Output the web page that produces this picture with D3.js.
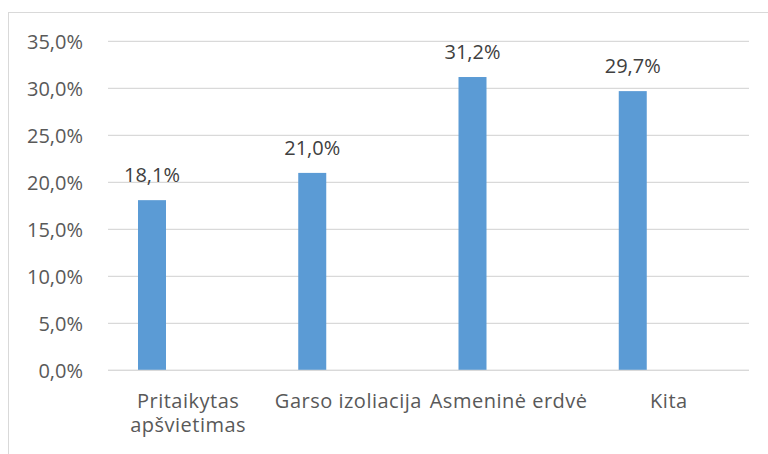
<!DOCTYPE html>
<html lang="lt">
<head>
  <meta charset="utf-8">
  <title>Bar chart</title>
  <script src="https://cdn.jsdelivr.net/npm/d3@7"></script>
  <style>
    body { margin: 0; background: #fff; }
    text { font-family: "Open Sans", "Noto Sans", sans-serif; }
  </style>
</head>
<body>
  <svg class="chart"></svg>
<script>
  // data
  var categories = [["Pritaikytas", "apšvietimas"], ["Garso izoliacija"], ["Asmeninė erdvė"], ["Kita"]];
  var values = [18.1, 21.0, 31.2, 29.7];
  var yTicks = [0, 5, 10, 15, 20, 25, 30, 35];

  var W = 768, H = 454,
      plotLeft = 108, plotRight = 749, plotTop = 41.3, plotBottom = 370.3;

  var fmt = d => d.toFixed(1).replace(".", ",") + "%";

  var svg = d3.select(".chart").attr("width", W).attr("height", H);

  // chart border (runs past the window on right and bottom)
  svg.append("rect")
    .attr("x", 8.5).attr("y", 12.5)
    .attr("width", 800).attr("height", 500)
    .attr("fill", "#fff").attr("stroke", "#d9d9d9");

  var x = d3.scaleBand().domain(d3.range(categories.length)).range([plotLeft, plotRight]);
  var y = d3.scaleLinear().domain([0, 35]).range([plotBottom, plotTop]);

  // gridlines
  svg.append("g").selectAll("line")
    .data(yTicks).enter().append("line")
    .attr("x1", plotLeft).attr("x2", plotRight)
    .attr("y1", d => y(d)).attr("y2", d => y(d))
    .attr("stroke", "#d9d9d9").attr("stroke-width", 1.3);

  // y labels
  svg.append("g").selectAll("text")
    .data(yTicks).enter().append("text")
    .attr("x", 83).attr("y", d => y(d))
    .attr("dy", "0.36em")
    .attr("text-anchor", "end")
    .style("font-size", "20px").style("fill", "#595959")
    .text(fmt);

  var barW = 28, barOff = 30;

  // bars
  svg.append("g").selectAll("rect")
    .data(values).enter().append("rect")
    .attr("x", (d, i) => x(i) + barOff)
    .attr("y", d => y(d))
    .attr("width", barW)
    .attr("height", d => y(0) - y(d))
    .attr("fill", "#5b9bd5");

  // value labels
  svg.append("g").selectAll("text")
    .data(values).enter().append("text")
    .attr("x", (d, i) => x(i) + barOff + barW / 2)
    .attr("y", d => y(d) - 18)
    .attr("text-anchor", "middle")
    .style("font-size", "20px").style("fill", "#404040")
    .text(fmt);

  // x axis line
  svg.append("line")
    .attr("x1", plotLeft).attr("x2", plotRight)
    .attr("y1", y(0)).attr("y2", y(0))
    .attr("stroke", "#d9d9d9").attr("stroke-width", 1.3);

  // category labels
  var cat = svg.append("g").selectAll("text")
    .data(categories).enter().append("text")
    .attr("x", (d, i) => x(i) + x.bandwidth() / 2)
    .attr("y", 408)
    .attr("text-anchor", "middle")
    .style("font-size", "20px").style("letter-spacing", "0.5px").style("fill", "#595959");
  cat.selectAll("tspan")
    .data(d => d).enter().append("tspan")
    .attr("x", function() { return this.parentNode.getAttribute("x"); })
    .attr("dy", (d, i) => i ? 24 : 0)
    .text(d => d);
</script>
</body>
</html>
